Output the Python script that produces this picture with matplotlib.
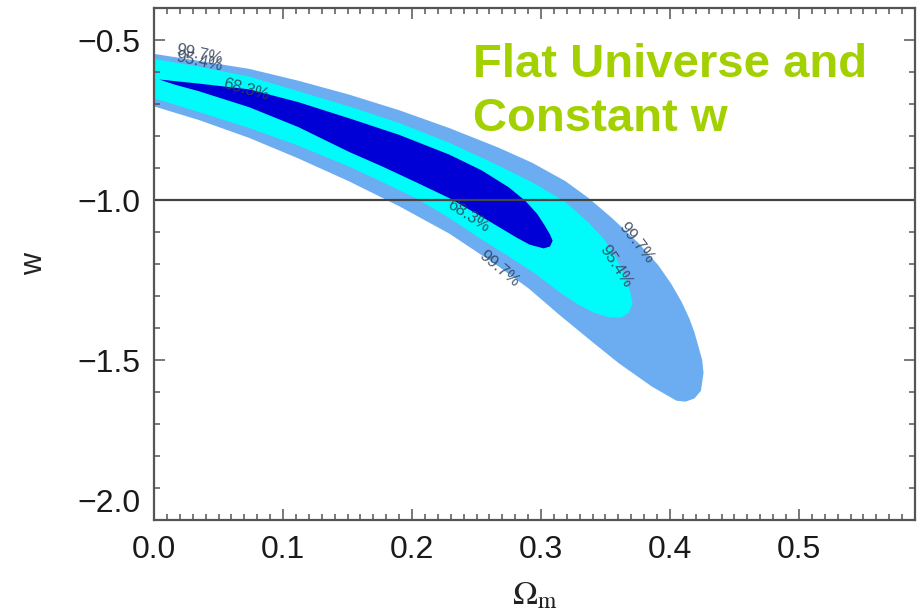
import matplotlib
matplotlib.use('Agg')
import matplotlib.pyplot as plt
import matplotlib.transforms as mtransforms
from matplotlib.ticker import MultipleLocator

plt.rcParams['font.family'] = ['Liberation Sans', 'DejaVu Sans']
plt.rcParams['mathtext.fontset'] = 'stix'

# contour boundaries (Omega_m, w), closed loops
om_997 = [-0.004, 0.000, 0.035, 0.074, 0.112, 0.151, 0.190, 0.229, 0.267, 0.293,
          0.319, 0.337, 0.355, 0.376, 0.391, 0.401, 0.409, 0.415, 0.419, 0.422,
          0.425, 0.426, 0.424, 0.419, 0.412, 0.405, 0.386, 0.360, 0.340, 0.314,
          0.291, 0.267, 0.229, 0.190, 0.151, 0.112, 0.074, 0.035, 0.000, -0.004]
w_997 = [-0.540, -0.543, -0.565, -0.590, -0.627, -0.670, -0.719, -0.775, -0.836, -0.883,
         -0.941, -0.994, -1.056, -1.136, -1.204, -1.262, -1.318, -1.370, -1.414, -1.457,
         -1.500, -1.540, -1.596, -1.620, -1.630, -1.627, -1.583, -1.509, -1.444, -1.358,
         -1.278, -1.207, -1.105, -1.019, -0.941, -0.870, -0.806, -0.750, -0.707, -0.704]

om_954 = [-0.004, 0.000, 0.035, 0.074, 0.112, 0.151, 0.190, 0.229, 0.267, 0.293,
          0.319, 0.337, 0.349, 0.358, 0.365, 0.369, 0.371, 0.368, 0.362, 0.353,
          0.341, 0.329, 0.314, 0.296, 0.275, 0.254, 0.229, 0.203, 0.174, 0.151,
          0.112, 0.074, 0.035, 0.000, -0.004]
w_954 = [-0.556, -0.559, -0.583, -0.614, -0.660, -0.707, -0.759, -0.821, -0.892, -0.944,
         -1.006, -1.071, -1.123, -1.179, -1.235, -1.284, -1.324, -1.352, -1.367, -1.367,
         -1.352, -1.327, -1.287, -1.231, -1.176, -1.123, -1.056, -0.994, -0.938, -0.895,
         -0.830, -0.775, -0.725, -0.682, -0.679]

om_683 = [0.004, 0.035, 0.074, 0.112, 0.151, 0.190, 0.229, 0.254, 0.275, 0.288,
          0.297, 0.303, 0.307, 0.309, 0.307, 0.302, 0.291, 0.281, 0.254, 0.229,
          0.203, 0.177, 0.151, 0.112, 0.074, 0.035, 0.016]
w_683 = [-0.623, -0.636, -0.654, -0.694, -0.744, -0.796, -0.858, -0.907, -0.960, -1.003,
         -1.043, -1.080, -1.108, -1.127, -1.145, -1.151, -1.139, -1.117, -1.052, -0.994,
         -0.944, -0.895, -0.849, -0.772, -0.710, -0.660, -0.639]

# contour labels: text, Omega_m, w, angle
lab_text = ['99.7%', '95.4%', '68.3%', '68.3%', '99.7%', '95.4%', '99.7%']
lab_om = [0.035, 0.035, 0.071, 0.244, 0.374, 0.358, 0.268]
lab_w = [-0.546, -0.568, -0.654, -1.049, -1.133, -1.207, -1.216]
lab_rot = [-12, -12, -15, -33, -52, -57, -40]

fig = plt.figure(figsize=(9.18, 6.16), dpi=100)
ax = fig.add_axes([0.1678, 0.1558, 0.829, 0.831])

ax.fill(om_997, w_997, color='#6cadf2', lw=0)
ax.fill(om_954, w_954, color='#00fbfb', lw=0)
ax.fill(om_683, w_683, color='#0000d6', lw=0)
ax.axhline(-1.0, color='#444444', lw=1.6)

for t, x, y, r in zip(lab_text, lab_om, lab_w, lab_rot):
    ax.text(x, y, t, rotation=r, fontsize=12, color='#2f3f55', alpha=0.85,
            ha='center', va='center', rotation_mode='anchor')

ax.set_xlim(0, 0.59)
ax.set_ylim(-2.0, -0.4)
ax.set_xticks([0.0, 0.1, 0.2, 0.3, 0.4, 0.5])
ax.set_xticklabels(['0.0', '0.1', '0.2', '0.3', '0.4', '0.5'])
ax.set_yticks([-0.5, -1.0, -1.5, -2.0])
ax.set_yticklabels(['\u22120.5', '\u22121.0', '\u22121.5', '\u22122.0'])
ax.xaxis.set_minor_locator(MultipleLocator(0.01))
ax.yaxis.set_minor_locator(MultipleLocator(0.1))
ax.tick_params(which='both', direction='in', top=True, right=True,
               colors='#555555', labelcolor='#1a1a1a', width=1.1, labelsize=23)
ax.tick_params(which='major', length=8)
ax.tick_params(which='minor', length=4)
ax.tick_params(axis='x', pad=11)
ax.tick_params(axis='y', pad=10)
for s in ax.spines.values():
    s.set_color('#555555')
    s.set_linewidth(1.6)

# the bottom y label sits a little above its tick in the original
lab = ax.get_yticklabels()[-1]
lab.set_transform(lab.get_transform() + mtransforms.ScaledTranslation(0, 0.2, fig.dpi_scale_trans))

ax.set_xlabel(r'$\Omega_{\rm m}$', fontsize=24, color='#222222', labelpad=11)
ax.set_ylabel('w', fontsize=22, color='#222222', labelpad=20)

ax.text(0.419, 0.931, 'Flat Universe and\nConstant w', transform=ax.transAxes,
        fontsize=34, fontweight='bold', color='#a3d000', ha='left', va='top',
        linespacing=1.27)

fig.savefig('out.png', dpi=100)
